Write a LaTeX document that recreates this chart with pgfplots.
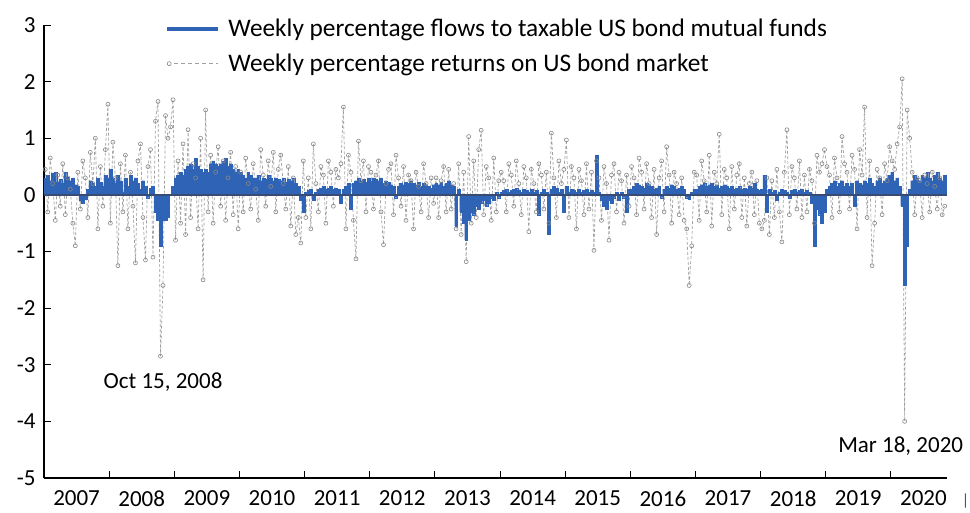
\documentclass[border=0pt]{standalone}
\usepackage{pgfplots}
\pgfplotsset{compat=1.18}
\usepackage{pgfplotstable}
\usepackage{fontspec}
\setmainfont{Carlito}
\definecolor{barblue}{RGB}{46,99,181}
\definecolor{retgray}{RGB}{160,160,160}
\definecolor{zeroline}{RGB}{55,75,115}
\newcommand{\bigf}{\fontsize{23}{28}\selectfont}
\newcommand{\legf}{\fontsize{25.3}{30}\selectfont}
\begin{document}
\pgfplotstableread{
f r
0.30 0.45
0.35 -0.30
0.25 0.65
0.38 0.20
0.40 -0.45
0.22 0.35
0.28 -0.20
0.20 0.55
0.40 -0.35
0.32 0.30
0.25 0.10
0.30 -0.50
0.18 -0.90
0.15 0.40
-0.10 -0.25
-0.15 0.60
-0.08 0.30
0.10 -0.40
0.25 0.75
0.20 0.20
0.15 1.00
0.30 -0.60
0.22 0.50
0.15 -0.20
0.35 0.80
0.30 1.60
0.45 -0.50
0.30 0.93
0.20 0.30
0.35 -1.25
0.25 0.55
0.05 -0.30
0.30 0.70
0.15 -0.60
0.35 0.40
0.25 -0.20
0.30 -1.20
0.20 0.60
0.10 0.90
0.25 -0.40
0.15 -1.15
-0.05 0.50
0.12 0.80
0.15 -1.10
-0.30 1.30
-0.45 1.65
-0.90 -2.85
-0.45 -1.60
-0.45 1.40
-0.40 1.00
0.00 1.20
0.15 1.68
0.30 -0.80
0.35 0.60
0.40 -0.50
0.35 0.90
0.45 -0.70
0.50 1.15
0.55 -0.40
0.45 0.55
0.65 0.30
0.50 -0.60
0.45 1.00
0.40 -1.50
0.45 1.50
0.40 -0.30
0.55 0.70
0.60 -0.50
0.55 0.40
0.50 0.85
0.55 -0.20
0.60 0.60
0.65 -0.45
0.50 0.30
0.55 0.75
0.45 -0.35
0.40 0.50
0.45 -0.60
0.40 0.40
0.35 -0.30
0.30 0.65
0.40 0.20
0.35 -0.25
0.30 0.55
0.30 0.10
0.35 -0.45
0.25 0.80
0.30 0.35
0.28 -0.20
0.35 0.60
0.30 0.15
0.25 0.75
0.30 -0.30
0.28 0.45
0.25 0.70
0.30 0.20
0.22 -0.25
0.28 0.50
0.25 -0.55
0.30 0.30
0.20 -0.70
0.15 -0.40
-0.10 -0.85
-0.30 0.60
0.05 -0.40
0.08 0.30
0.10 -0.60
-0.10 0.90
0.05 0.20
0.10 -0.30
0.12 0.50
0.15 0.35
0.10 -0.50
0.12 0.60
0.15 0.40
0.10 -0.20
0.12 0.45
0.10 0.30
-0.15 0.55
0.10 1.55
0.15 -0.60
0.20 0.70
-0.25 0.40
0.20 -0.45
0.25 -1.13
0.30 0.95
0.25 0.25
0.28 0.60
0.22 -0.30
0.30 0.50
0.25 0.40
0.30 -0.25
0.28 0.35
0.25 0.60
0.30 -0.30
0.20 -0.88
0.25 0.20
0.22 0.45
0.18 0.55
0.15 -0.35
-0.05 0.70
0.15 0.30
0.20 -0.20
0.18 0.50
0.22 -0.45
0.20 0.35
0.25 0.25
0.20 -0.60
0.18 0.40
0.22 0.15
0.15 -0.30
0.20 0.55
0.18 0.20
0.15 -0.40
0.12 0.30
0.18 -0.15
0.20 0.30
0.18 -0.40
0.22 0.25
0.15 0.50
0.20 -0.30
0.25 0.45
0.18 -0.25
0.15 0.20
-0.55 -0.60
0.10 0.55
-0.30 -0.70
-0.50 0.40
-0.80 -1.18
-0.45 1.03
-0.30 -0.50
-0.35 0.60
-0.20 -0.40
-0.25 0.80
-0.15 1.14
-0.10 -0.35
-0.20 0.50
-0.15 0.30
-0.05 -0.45
-0.10 0.65
0.05 -0.30
-0.05 0.25
0.05 0.40
0.08 0.25
0.10 -0.30
0.05 0.55
0.08 0.35
0.10 -0.20
0.12 0.60
0.08 0.20
0.05 -0.35
0.10 0.50
0.08 0.30
0.05 -0.65
0.10 0.45
0.05 0.20
0.08 -0.30
-0.35 0.55
0.05 0.35
0.10 -0.25
0.05 0.40
-0.70 -0.50
0.10 1.09
0.15 0.30
0.12 -0.40
0.05 0.60
0.10 0.20
-0.30 0.45
0.15 0.97
0.05 -0.40
0.10 0.50
0.08 0.30
0.05 -0.60
0.10 0.45
0.05 0.25
0.08 -0.35
0.10 0.55
0.05 -0.25
0.08 0.40
0.05 -0.98
0.70 0.60
0.05 0.30
-0.10 -0.45
-0.20 0.50
-0.25 0.20
-0.10 -0.80
-0.15 0.35
-0.05 0.55
0.05 -0.30
-0.10 0.40
0.05 0.25
-0.05 -0.50
-0.30 0.35
0.10 -0.20
0.10 0.50
0.15 0.30
0.20 -0.35
0.18 0.65
0.15 0.40
0.12 -0.25
0.20 0.55
0.18 0.20
0.15 -0.40
0.10 0.45
0.12 -0.70
0.15 0.30
-0.05 0.60
0.10 -0.30
0.15 0.85
0.12 0.35
0.18 -0.50
0.15 0.40
0.10 0.20
0.12 -0.35
0.15 0.30
0.10 -0.45
-0.05 -0.60
-0.08 -1.60
0.05 -0.90
0.10 0.40
0.10 0.35
0.15 -0.45
0.18 0.60
0.20 0.25
0.15 -0.30
0.18 0.70
0.20 -0.55
0.15 0.40
0.18 0.20
0.12 1.07
0.15 -0.35
0.18 0.45
0.15 0.30
0.12 -0.60
0.15 0.50
0.10 -0.25
0.12 0.35
0.15 0.55
0.10 -0.40
0.12 0.30
0.10 -0.55
0.15 0.20
0.12 0.40
0.20 -0.35
0.10 0.25
0.08 -0.50
0.10 -0.60
0.35 -0.45
-0.30 0.30
0.10 -0.70
0.05 0.25
0.08 -0.40
-0.10 0.45
0.05 -0.30
0.10 -0.83
0.08 0.40
0.05 1.15
-0.05 -0.35
0.08 0.50
0.10 0.30
0.05 -0.25
0.08 0.60
0.10 -0.40
0.05 0.35
0.08 -0.30
0.05 0.45
-0.15 0.25
-0.90 -0.50
-0.25 0.70
-0.35 0.40
-0.50 0.55
-0.30 0.80
0.10 0.50
0.15 0.35
0.20 -0.40
0.25 0.65
0.15 0.30
0.20 -0.30
0.25 1.03
0.15 0.55
0.20 0.40
0.15 -0.25
0.20 0.70
-0.20 0.45
0.25 -0.60
0.20 0.80
0.18 0.35
0.25 1.55
0.20 -0.40
0.30 0.60
0.20 -1.25
0.15 -0.50
0.25 0.45
0.30 0.30
0.20 -0.35
0.25 0.55
0.30 0.25
0.35 0.85
0.40 0.60
0.25 0.45
0.30 0.90
0.15 1.20
-0.20 2.05
-1.60 -4.00
-0.90 1.50
0.10 1.00
0.25 0.40
0.35 -0.35
0.30 0.30
0.25 0.25
0.35 -0.40
0.30 0.35
0.40 0.20
0.30 -0.30
0.25 0.40
0.35 0.15
0.40 -0.25
0.30 0.30
0.25 -0.35
0.35 -0.20
}\data
\begin{tikzpicture}
\path[use as bounding box] (-44pt,-34pt) rectangle (926pt,478pt);
\begin{axis}[
  at={(0pt,0pt)}, anchor=south west,
  scale only axis, width=903pt, height=453pt,
  xmin=0, xmax=360.4, ymin=-5, ymax=3,
  clip=false,
  axis lines*=left,
  axis line style={black, line width=1.6pt, -},
  tick align=inside,
  major tick length=7pt, minor tick length=7pt,
  tick style={black, line width=0.8pt},
  ytick={-5,-4,-3,-2,-1,0,1,2,3},
  yticklabels={-5,-4,-3,-2,-1,0,1,2,3},
  xtick={13,39,65,91,117,143,169,195,221,247,273,299,325,351},
  xticklabels={2007,2008,2009,2010,2011,2012,2013,2014,2015,2016,2017,2018,2019,2020},
  minor xtick={26,52,78,104,130,156,182,208,234,260,286,312,338},
  every major x tick/.append style={draw=none},
  ticklabel style={font=\bigf, text=black},
  xticklabel style={yshift=-9pt},
  yticklabel style={xshift=-5pt},
  legend style={at={(0.134,1.018)}, anchor=north west, draw=none, fill=none,
    font=\legf, row sep=12pt, inner sep=0pt},
  legend cell align=left,
]
% returns drawn first (behind the bars)
\addplot[forget plot, retgray, line width=0.7pt, dash pattern=on 3pt off 2pt,
  mark=o, mark size=2pt, mark options={solid, fill=white, draw=retgray!85!black, line width=0.6pt}]
  table[x expr=\coordindex+0.5, y=r] {\data};
\addplot[ybar, bar width=1.15, fill=barblue, draw=barblue, line width=0.3pt,
  legend image code/.code={\draw[barblue, line width=4pt] (0pt,0pt) -- (51pt,0pt); \path (59pt,0pt);}]
  table[x expr=\coordindex+0.5, y=f] {\data};
\addlegendentry{Weekly percentage flows to taxable US bond mutual funds}
\addplot[forget plot, zeroline, line width=1.3pt] coordinates {(0,0) (360.4,0)};
\addlegendimage{legend image code/.code={\draw[retgray, line width=0.8pt, dash pattern=on 4pt off 3pt] (0pt,0pt) -- (51pt,0pt); \draw[retgray!85!black, fill=white, line width=0.6pt] (2pt,0pt) circle (2pt); \path (59pt,0pt);}}
\addlegendentry{Weekly percentage returns on US bond market}
\node[font=\bigf] at (axis cs:47.5,-3.3) {Oct 15, 2008};
\node[font=\bigf] at (axis cs:341.9,-4.43) {Mar 18, 2020};
\node[font=\fontsize{16}{18}\selectfont, text=black!70] at (axis cs:367.8,-5.4) {|};
\end{axis}
\end{tikzpicture}
\end{document}
